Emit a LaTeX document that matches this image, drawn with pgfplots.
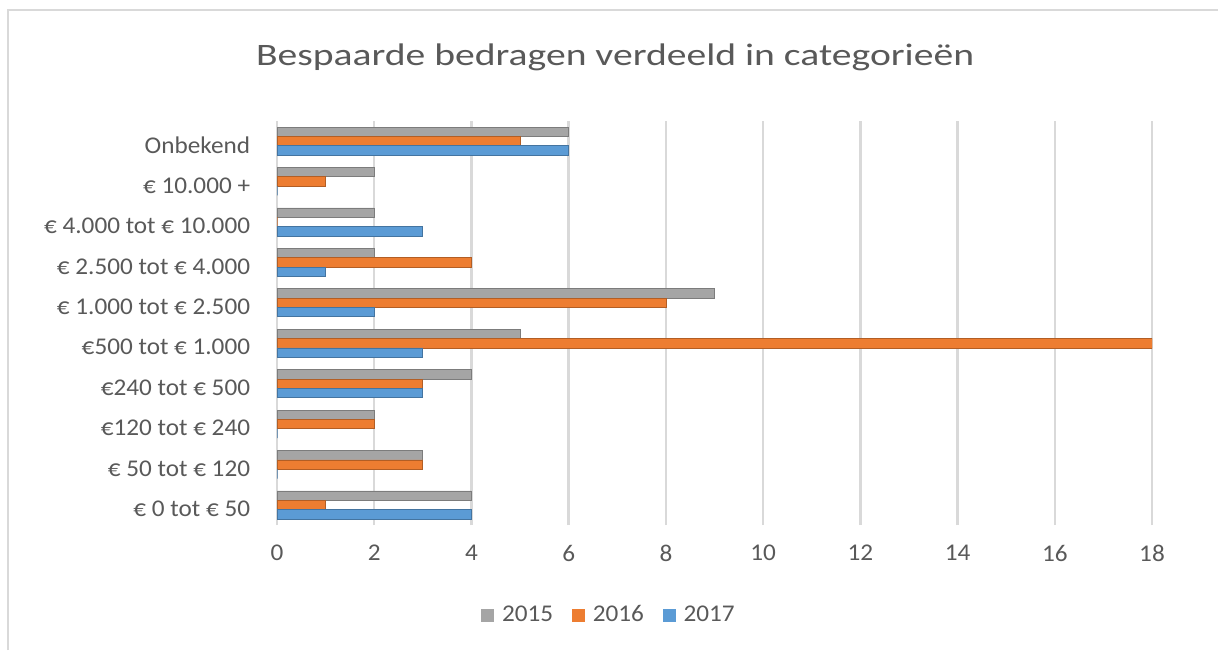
\documentclass[border=0pt]{standalone}
\usepackage{fontspec}
\setmainfont{Carlito}[FakeStretch=1.05]
\newfontfamily\titlefont{Carlito}[FakeStretch=1.27]
\usepackage{pgfplots}
\pgfplotsset{compat=1.18}
\definecolor{c15}{HTML}{A5A5A5}
\definecolor{c16}{HTML}{ED7D31}
\definecolor{c17}{HTML}{5B9BD5}
\definecolor{txt}{HTML}{595959}
\definecolor{gridc}{HTML}{D9D9D9}
\begin{document}
\begin{tikzpicture}[x=1pt,y=1pt]
\useasboundingbox (0,0) rectangle (609,325);
\draw[gridc, line width=1pt] (4,0) -- (4,320) -- (609,320);
\node[text=txt, anchor=base, inner sep=0pt, font=\titlefont\fontsize{15.6}{18}\selectfont] at (307.5,292.5) {Bespaarde bedragen verdeeld in categorieën};
\begin{axis}[
  at={(138.5pt,62.4pt)}, anchor=south west, scale only axis,
  width=437.5pt, height=202.2pt,
  xmin=0, xmax=18, ymin=-0.5, ymax=9.5,
  xtick={0,2,...,18}, ytick={0,...,9},
  yticklabels={{€ 0 tot € 50},{€ 50 tot € 120},{€120 tot € 240},{€240 tot € 500},{€500 tot € 1.000},{€ 1.000 tot € 2.500},{€ 2.500 tot € 4.000\hspace{3pt}},{€ 4.000 tot € 10.000},{€ 10.000 +\hspace{3pt}},{Onbekend\hspace{3pt}}},
  axis line style={draw=none}, major tick style={draw=none},
  xmajorgrids, grid style={gridc, line width=1.2pt},
  xbar, bar width=4.67pt,
  /pgf/number format/assume math mode=true,
  ticklabel style={text=txt, font=\fontsize{12}{14}\selectfont},
  yticklabel style={anchor=east, inner sep=0pt, xshift=-9pt, yshift=-2pt},
  xticklabel style={anchor=center, inner sep=0pt, yshift=-13.9pt},
  legend columns=3,
  legend style={at={(axis description cs:0.380,-0.222)}, anchor=center, draw=none, fill=none,
    font=\fontsize{12}{14}\selectfont, text=txt,
    /tikz/every odd column/.append style={column sep=2.5pt},
    /tikz/every even column/.append style={column sep=8pt},
    nodes={inner sep=1.5pt}},
]
\addplot[fill=c15, draw=c15!75!black, line width=0.35pt, bar shift=4.67pt,
  legend image code/.code={\fill[c15] (0pt,-3pt) rectangle (6pt,3pt);}]
  coordinates {(4,0) (3,1) (2,2) (4,3) (5,4) (9,5) (2,6) (2,7) (2,8) (6,9)};
\addplot[fill=c16, draw=c16!75!black, line width=0.35pt, bar shift=0pt,
  legend image code/.code={\fill[c16] (0pt,-3pt) rectangle (6pt,3pt);}]
  coordinates {(1,0) (3,1) (2,2) (3,3) (18,4) (8,5) (4,6) (0,7) (1,8) (5,9)};
\addplot[fill=c17, draw=c17!75!black, line width=0.35pt, bar shift=-4.67pt,
  legend image code/.code={\fill[c17] (0pt,-3pt) rectangle (6pt,3pt);}]
  coordinates {(4,0) (0,1) (0,2) (3,3) (3,4) (2,5) (1,6) (3,7) (0,8) (6,9)};
\legend{2015,2016,2017}
\end{axis}
\end{tikzpicture}
\end{document}
